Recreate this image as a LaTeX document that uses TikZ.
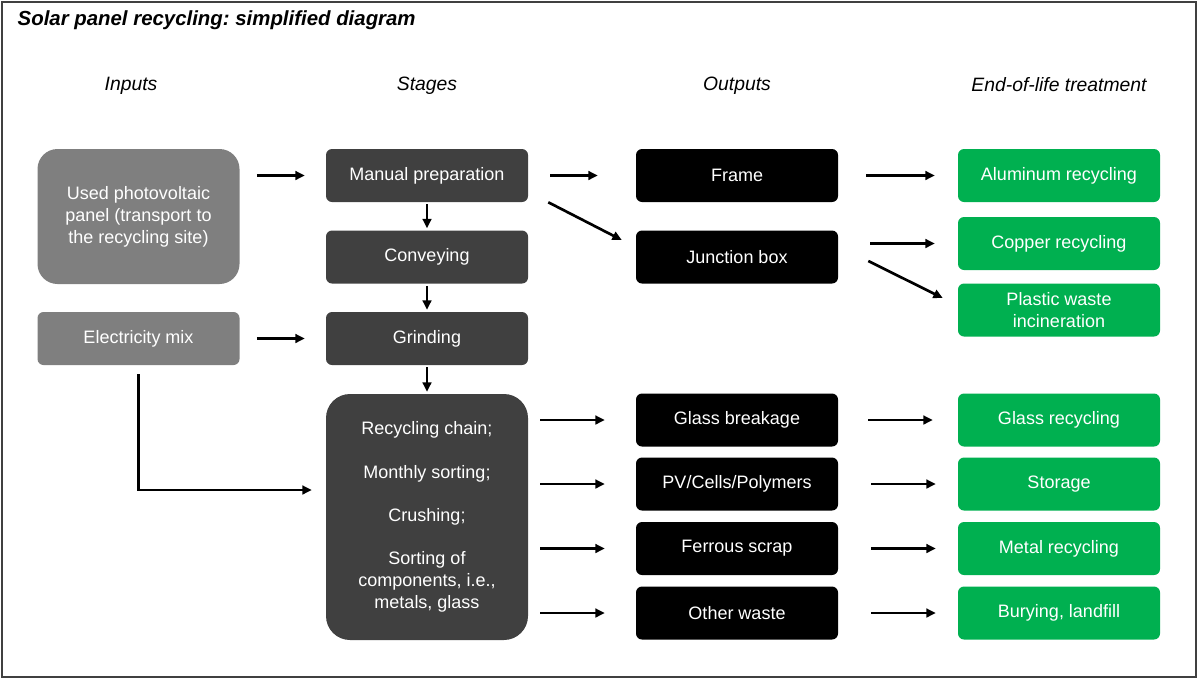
\documentclass[tikz,border=0pt]{standalone}
\usepackage{fontspec}
\setmainfont{Liberation Sans}
\usepackage{xcolor}
\usetikzlibrary{arrows.meta}
\usetikzlibrary{positioning}
\definecolor{ingray}{HTML}{7F7F7F}
\definecolor{stagegray}{HTML}{404040}
\definecolor{endgreen}{HTML}{00B050}
\frenchspacing

\begin{document}
\begin{tikzpicture}[x=0.75pt,y=-0.75pt,
                boxtext/.style={text=white,align=center,font=\fontsize{13.5}{16.5}\selectfont,
                  minimum width=151.5pt,minimum height=39.75pt,inner sep=2pt},
                inbox/.style={boxtext,fill=ingray,rounded corners=4.5pt},
                stagebox/.style={boxtext,fill=stagegray,rounded corners=4.5pt},
                outbox/.style={boxtext,fill=black,rounded corners=4.5pt},
                endbox/.style={boxtext,fill=endgreen,rounded corners=4.5pt},
                head/.style={font=\fontsize{14.5}{17}\selectfont\itshape},
                arr/.style={line width=2pt,-{Triangle[length=7pt,width=6.5pt]}}]
             \useasboundingbox (0,0) rectangle (1198,679);
             \draw[line width=0.9pt,black!75] (2,2) rectangle (1196,677);
             \node[anchor=west,font=\fontsize{15.3}{18}\selectfont\bfseries\itshape] (title) at (13,20) {Solar panel recycling: simplified diagram};
             \node[head] (hin) at (131,86) {Inputs};
             \node[head] (hst) at (427,86) {Stages};
             \node[head] (hout) at (737,86) {Outputs};
             \node[head] (hend) at (1059,85) {End-of-life treatment};
             \node[inbox,minimum height=101.25pt,rounded corners=15pt] (pv) at (138.5,216.5) {Used photovoltaic\\panel (transport to\\the recycling site)};
             \node[inbox] (elec) at (138.5,338.5) {Electricity mix};
             \node[stagebox] (man) at (427,175.5) {Manual preparation};
             \node[stagebox] (conv) at (427,257) {Conveying};
             \node[stagebox] (grind) at (427,338.5) {Grinding};
             \node[stagebox,minimum height=184.5pt,rounded corners=18pt] (big) at (427,517)
                {Recycling chain;\\[16pt]Monthly sorting;\\[16pt]Crushing;\\[16pt]Sorting of\\components, i.e.,\\metals, glass};
             \node[outbox] (frame) at (737,175.5) {Frame};
             \node[outbox] (junc) at (737,257) {Junction box};
             \node[outbox] (glass) at (737,420) {Glass breakage};
             \node[outbox] (cells) at (737,484) {PV/Cells/Polymers};
             \node[outbox] (ferrous) at (737,548.5) {Ferrous scrap};
             \node[outbox] (other) at (737,613) {Other waste};
             \node[endbox] (alu) at (1059,175.5) {Aluminum recycling};
             \node[endbox] (copper) at (1059,243.5) {Copper recycling};
             \node[endbox] (plastic) at (1059,310) {Plastic waste\\incineration};
             \node[endbox] (glassrec) at (1059,420) {Glass recycling};
             \node[endbox] (storage) at (1059,484) {Storage};
             \node[endbox] (metal) at (1059,548.5) {Metal recycling};
             \node[endbox] (bury) at (1059,613) {Burying, landfill};
             \draw[arr] ([xshift=12.75pt]pv.east |- man.west) -- ([xshift=-15.75pt]man.west);
             \draw[arr] ([xshift=12.75pt]elec.east) -- ([xshift=-15.75pt]grind.west);
             \draw[arr] ([yshift=-1.5pt]man.south) -- ([yshift=1.5pt]conv.north);
             \draw[arr] ([yshift=-1.5pt]conv.south) -- ([yshift=1.5pt]grind.north);
             \draw[arr] ([yshift=-1.5pt]grind.south) -- ([yshift=1.5pt]big.north);
             \draw[arr] ([yshift=-6.75pt]elec.south) |- ([xshift=-10.5pt,yshift=20.25pt]big.west);
             \draw[arr] ([xshift=16.5pt]man.east) -- ([xshift=-28.5pt]frame.west);
             \draw[arr] ([xshift=15pt]man.south east) -- ([xshift=-10.5pt,yshift=12.75pt]junc.west);
             \draw[arr] ([xshift=21pt]frame.east) -- ([xshift=-17.25pt]alu.west);
             \draw[arr] ([xshift=24pt]junc.east |- copper.west) -- ([xshift=-17.25pt]copper.west);
             \draw[arr] ([xshift=22.5pt,yshift=-3pt]junc.east) -- ([xshift=-11.25pt,yshift=9pt]plastic.west);
             \draw[arr] ([xshift=9pt]big.east |- glass.west) -- ([xshift=-23.25pt]glass.west);
             \draw[arr] ([xshift=9pt]big.east |- cells.west) -- ([xshift=-23.25pt]cells.west);
             \draw[arr] ([xshift=9pt]big.east |- ferrous.west) -- ([xshift=-23.25pt]ferrous.west);
             \draw[arr] ([xshift=9pt]big.east |- other.west) -- ([xshift=-23.25pt]other.west);
             \draw[arr] ([xshift=22.5pt]glass.east) -- ([xshift=-18.75pt]glassrec.west);
             \draw[arr] ([xshift=24.75pt]cells.east) -- ([xshift=-16.5pt]storage.west);
             \draw[arr] ([xshift=24.75pt]ferrous.east) -- ([xshift=-16.5pt]metal.west);
             \draw[arr] ([xshift=24.75pt]other.east) -- ([xshift=-16.5pt]bury.west);
             \end{tikzpicture}
\end{document}
